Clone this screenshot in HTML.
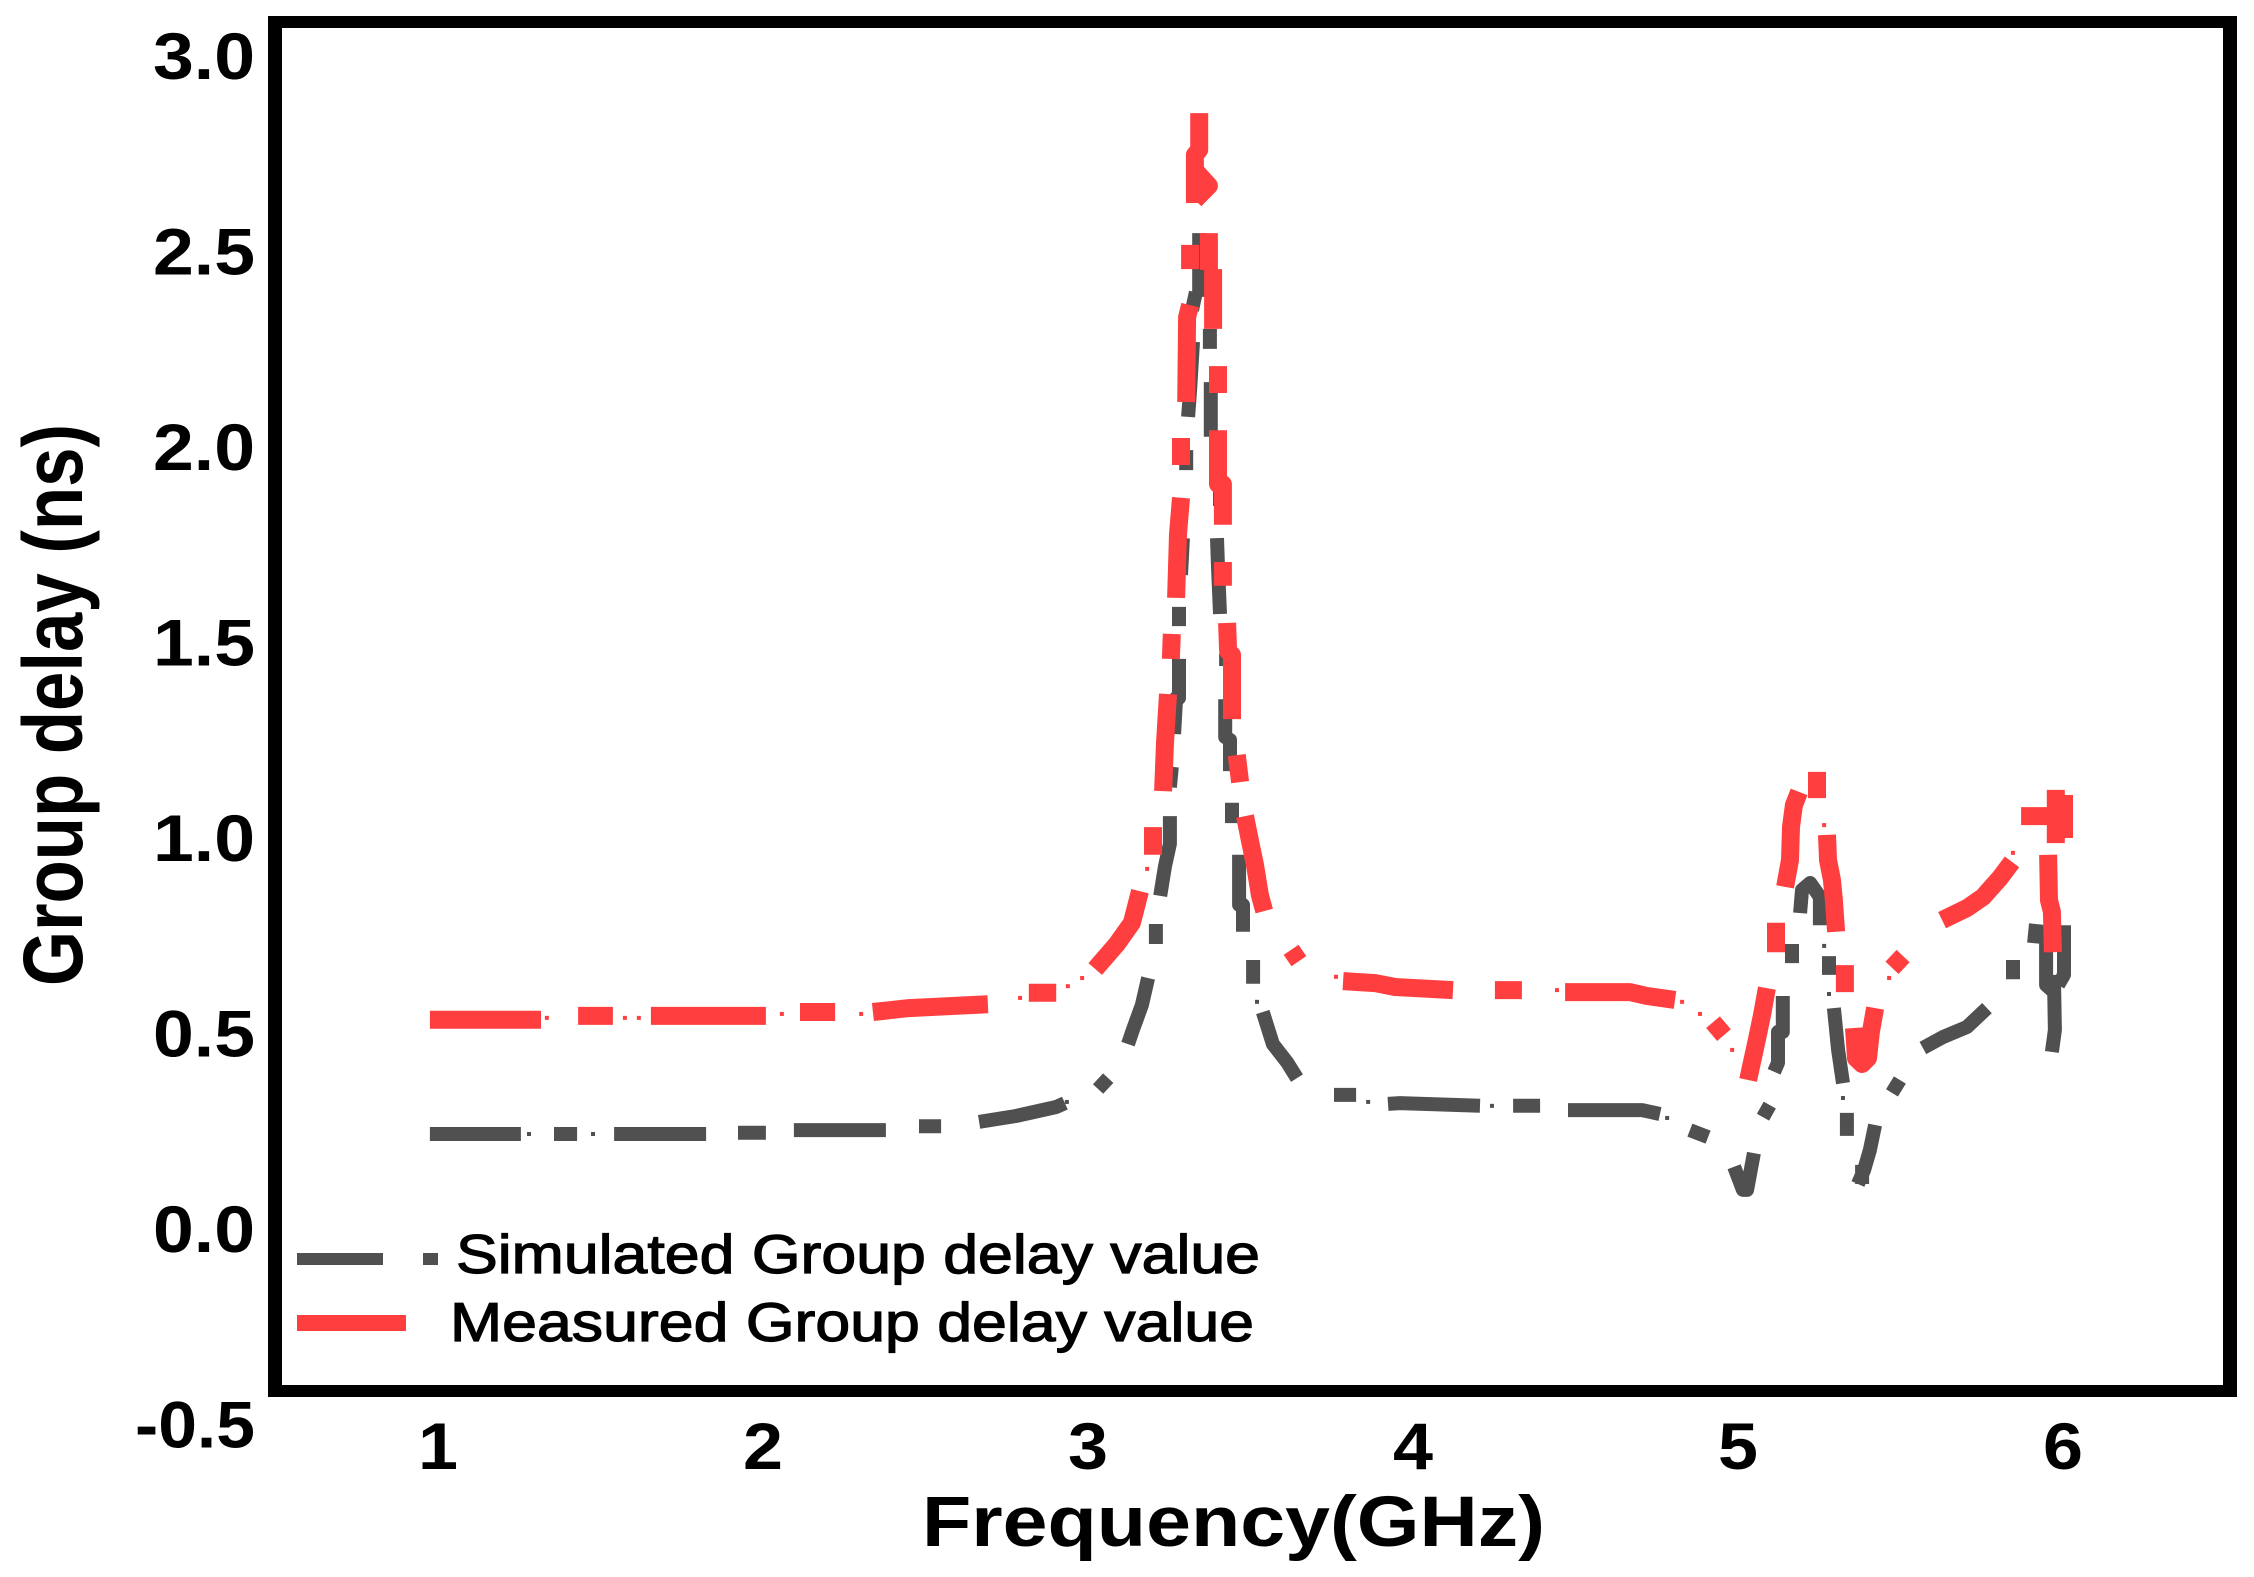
<!DOCTYPE html>
<html lang="en">
<head>
<meta charset="utf-8">
<title>Group delay vs frequency</title>
<style>
html,body{margin:0;padding:0;background:#fff;width:2254px;height:1577px;overflow:hidden}
svg{display:block}
text{font-family:"Liberation Sans",sans-serif;fill:#000}
.bold{font-weight:bold}
.legend-text{stroke:#000;stroke-width:1.2px}
</style>
</head>
<body>
<svg id="chart" xmlns="http://www.w3.org/2000/svg" width="2254" height="1577" viewBox="0 0 2254 1577">
  <rect x="0" y="0" width="2254" height="1577" fill="#fff"/>
  <g id="series-layer"></g>
  <path fill="#000" fill-rule="evenodd" d="M268 16H2237V1397H268Z M282 28H2223V1385H282Z"/>
  <g id="y-ticks"></g>
  <g id="x-ticks"></g>
  <text class="bold" x="922" y="1546" font-size="71" textLength="623" lengthAdjust="spacingAndGlyphs">Frequency(GHz)</text>
  <text class="bold" transform="translate(82,986) rotate(-90)" font-size="84" textLength="562" lengthAdjust="spacingAndGlyphs">Group delay (ns)</text>
  <g>
    <rect x="297" y="1253" width="86" height="12" fill="#505050"/>
    <rect x="423" y="1253" width="15" height="12" fill="#505050"/>
    <text class="legend-text" x="456" y="1273" font-size="55" textLength="804" lengthAdjust="spacingAndGlyphs">Simulated Group delay value</text>
    <rect x="297" y="1315" width="109" height="16" fill="#ff3f3f"/>
    <text class="legend-text" x="450" y="1341" font-size="55" textLength="804" lengthAdjust="spacingAndGlyphs">Measured Group delay value</text>
  </g>
</svg>
<script>
var xTickValues = [1, 2, 3, 4, 5, 6];
var yTickValues = [3.0, 2.5, 2.0, 1.5, 1.0, 0.5, 0.0, -0.5];
var yTickLabels = ["3.0", "2.5", "2.0", "1.5", "1.0", "0.5", "0.0", "-0.5"];

var simulatedFreq = [
0.975,1.255,null, 1.357,1.428,null, 1.542,1.825,null, 1.923,2.009,null, 2.095,2.378,null, 2.480,2.548,null,
2.665,2.778,2.902,2.929,null, 3.031,3.062,null, 3.123,3.138,3.166,3.185,null, 3.209,3.209,null,
3.222,3.237,3.252,3.252,null, 3.252,3.258,null, 3.265,3.271,3.280,3.280,null, 3.280,3.280,null,
3.286,3.292,null, 3.302,3.302,null, 3.308,3.314,3.323,null, 3.320,3.332,null, 3.342,3.342,null,
3.375,3.375,null, 3.378,3.378,null, 3.406,3.406,null, 3.397,3.400,3.406,null, 3.425,3.425,null,
3.422,3.422,3.437,3.437,null, 3.443,3.443,null, 3.465,3.465,3.477,3.477,null, 3.508,3.508,null,
3.538,3.569,3.612,3.643,null, 3.757,3.825,null, 3.923,3.960,4.206,null, 4.308,4.391,null,
4.477,4.705,4.760,null, 4.852,4.908,null, 4.988,5.015,5.028,5.049,null, 5.077,5.098,null,
5.111,5.123,5.123,5.138,5.138,null, 5.166,5.166,null, 5.191,5.197,5.222,5.252,5.252,null, 5.280,5.280,null,
5.295,5.308,5.323,null, 5.335,5.335,null, 5.422,5.406,5.388,5.369,null, 5.382,5.382,null, 5.474,5.498,null,
5.569,5.631,5.705,5.766,null, 5.846,5.846,null, 5.911,5.917,null, 5.948,5.948,5.966,null,
6.003,6.003,5.985,null, 5.972,5.975,5.966
];
var simulatedDelay = [
0.243,0.243,null, 0.243,0.243,null, 0.243,0.243,null, 0.246,0.246,null, 0.253,0.253,null, 0.263,0.263,null,
0.274,0.289,0.312,0.322,null, 0.358,0.386,null, 0.473,0.509,0.573,0.642,null, 0.729,0.780,null,
0.852,0.928,0.985,1.056,null, 1.130,1.182,null, 1.266,1.358,1.358,1.458,null, 1.542,1.591,null,
1.673,1.767,null, 1.941,1.992,null, 2.077,2.146,2.269,null, 2.350,2.396,null, 2.384,2.547,null,
2.302,2.251,null, 2.166,2.026,null, 1.890,1.849,null, 1.767,1.693,1.573,null, 1.471,1.440,null,
1.355,1.258,1.251,1.171,null, 1.090,1.038,null, 0.957,0.829,0.829,0.760,null, 0.688,0.627,null,
0.555,0.473,0.427,0.386,null, 0.343,0.343,null, 0.320,0.322,0.315,null, 0.315,0.315,null,
0.304,0.304,0.294,null, 0.253,0.235,null, 0.159,0.100,0.100,0.194,null, 0.286,0.317,null,
0.402,0.425,0.504,0.504,0.596,null, 0.680,0.729,null, 0.808,0.867,0.885,0.849,0.777,null, 0.698,0.650,null,
0.565,0.458,0.373,null, 0.297,0.238,null, 0.266,0.202,0.151,0.115,null, 0.164,0.115,null, 0.348,0.381,null,
0.463,0.491,0.517,0.565,null, 0.639,0.688,null, 0.731,0.780,null, 0.777,0.624,0.611,null,
0.777,0.650,0.624,null, 0.650,0.509,0.453
];
var simulatedDotFreq = [1.280,1.477,2.935,3.520,3.862,4.243,4.782,5.265,5.280,5.323];
var simulatedDotDelay = [0.243,0.243,0.325,0.581,0.325,0.315,0.284,0.724,0.601,0.335];

var measuredFreq = [
0.975,1.317,null, 1.431,1.538,null, 1.655,2.009,null, 2.114,2.222,null, 2.338,2.449,2.692,null, 2.818,2.902,null,
3.022,3.089,3.135,3.160,null, 3.200,3.200,null, 3.231,3.237,3.246,null, 3.255,3.258,null,
3.271,3.277,3.286,null, 3.286,3.286,null, 3.302,3.305,3.314,null, 3.314,3.314,null, 3.372,3.372,null,
3.342,3.342,3.329,3.329,null, 3.329,3.372,3.329,null, 3.385,3.385,null, 3.400,3.400,null,
3.400,3.400,3.415,3.415,null, 3.415,3.415,null, 3.428,3.431,3.443,3.443,null, 3.458,3.468,null,
3.483,3.498,3.514,3.529,3.542,null, 3.625,3.649,null, 3.785,3.883,3.945,4.123,null, 4.252,4.335,null,
4.468,4.668,4.720,4.806,null, 4.923,4.957,null, 5.089,5.074,5.058,5.043,5.031,null, 5.117,5.117,null,
5.145,5.160,5.163,5.172,5.188,null, 5.243,5.243,null, 5.274,5.277,5.289,5.295,5.302,null, 5.329,5.329,null,
5.357,5.363,5.382,5.400,5.409,5.422,null, 5.474,5.508,null, 5.628,5.705,5.754,5.806,5.843,null,
5.871,5.960,null, 5.978,5.978,null, 6.003,6.003,null, 5.954,5.957,5.966,5.969
];
var measuredDelay = [
0.535,0.535,null, 0.545,0.545,null, 0.545,0.545,null, 0.555,0.555,null, 0.555,0.565,0.575,null, 0.604,0.604,null,
0.665,0.729,0.783,0.864,null, 0.957,1.028,null, 1.120,1.243,1.368,null, 1.458,1.522,null,
1.614,1.777,1.870,null, 1.954,2.023,null, 2.115,2.332,2.363,null, 2.455,2.517,null, 2.547,2.453,null,
2.854,2.760,2.747,2.624,null, 2.708,2.668,2.632,null, 2.455,2.302,null, 2.207,2.138,null,
2.043,1.905,1.905,1.801,null, 1.706,1.645,null, 1.550,1.478,1.468,1.304,null, 1.212,1.143,null,
1.056,0.995,0.931,0.854,0.813,null, 0.714,0.685,null, 0.634,0.629,0.619,0.611,null, 0.611,0.611,null,
0.606,0.606,0.596,0.586,null, 0.529,0.496,null, 0.616,0.547,0.483,0.427,0.381,null, 0.783,0.708,null,
0.875,0.944,1.028,1.084,1.118,null, 1.102,1.169,null, 1.008,0.944,0.893,0.841,0.760,null, 0.675,0.606,null,
0.514,0.437,0.422,0.437,0.504,0.565,null, 0.668,0.698,null, 0.790,0.821,0.849,0.898,0.939,null,
1.056,1.056,null, 1.123,0.987,null, 1.110,1.000,null, 0.957,0.841,0.811,0.708
];
var measuredDotFreq = [1.335,1.575,1.618,2.058,2.302,2.791,2.938,2.982,3.182,3.763,4.443,4.828,4.883,4.982,5.265,5.465,5.846];
var measuredDotDelay = [0.540,0.540,0.540,0.550,0.550,0.591,0.621,0.642,0.921,0.645,0.611,0.581,0.550,0.458,1.033,0.642,0.962];

var SVG_NS = "http://www.w3.org/2000/svg";

function xScale(freq) {
  return 438 + 325 * (freq - 1);
}
function yScale(delay) {
  return 1229 - 391 * delay;
}

function buildPath(freqs, delays) {
  var d = "";
  var penDown = false;
  for (var i = 0; i < freqs.length; i++) {
    if (freqs[i] === null || delays[i] === null) {
      penDown = false;
      continue;
    }
    d += (penDown ? "L" : "M") + xScale(freqs[i]).toFixed(1) + " " + yScale(delays[i]).toFixed(1);
    penDown = true;
  }
  return d;
}

var seriesLayer = document.getElementById("series-layer");

var simulatedLine = document.createElementNS(SVG_NS, "path");


simulatedLine.setAttribute("d", buildPath(simulatedFreq, simulatedDelay));
simulatedLine.setAttribute("fill", "none");
simulatedLine.setAttribute("stroke", "#505050");
simulatedLine.setAttribute("stroke-width", "14");
simulatedLine.setAttribute("stroke-linejoin", "round");
seriesLayer.appendChild(simulatedLine);

simulatedDotFreq.forEach(function (freq, i) {
  var dot = document.createElementNS(SVG_NS, "rect");
  
  
  dot.setAttribute("x", xScale(freq) - 2);
  dot.setAttribute("y", yScale(simulatedDotDelay[i]) - 2);
  dot.setAttribute("width", 4);
  dot.setAttribute("height", 4);
  dot.setAttribute("fill", "#505050");
  seriesLayer.appendChild(dot);
});

var measuredLine = document.createElementNS(SVG_NS, "path");


measuredLine.setAttribute("d", buildPath(measuredFreq, measuredDelay));
measuredLine.setAttribute("fill", "none");
measuredLine.setAttribute("stroke", "#ff3f3f");
measuredLine.setAttribute("stroke-width", "18");
measuredLine.setAttribute("stroke-linejoin", "round");
seriesLayer.appendChild(measuredLine);

measuredDotFreq.forEach(function (freq, i) {
  var dot = document.createElementNS(SVG_NS, "rect");
  
  
  dot.setAttribute("x", xScale(freq) - 2);
  dot.setAttribute("y", yScale(measuredDotDelay[i]) - 2);
  dot.setAttribute("width", 4);
  dot.setAttribute("height", 4);
  dot.setAttribute("fill", "#ff3f3f");
  seriesLayer.appendChild(dot);
});

var yTickGroup = document.getElementById("y-ticks");
yTickValues.forEach(function (value, i) {
  var label = document.createElementNS(SVG_NS, "text");
  
  
  label.setAttribute("class", "bold");
  label.setAttribute("x", 255);
  label.setAttribute("y", yScale(value) + 23);
  label.setAttribute("text-anchor", "end");
  label.setAttribute("font-size", "66");
  label.setAttribute("textLength", yTickLabels[i].length > 3 ? 120 : 102);
  label.setAttribute("lengthAdjust", "spacingAndGlyphs");
  label.textContent = yTickLabels[i];
  yTickGroup.appendChild(label);
});

var xTickGroup = document.getElementById("x-ticks");
xTickValues.forEach(function (value) {
  var label = document.createElementNS(SVG_NS, "text");
  
  
  label.setAttribute("class", "bold");
  label.setAttribute("x", xScale(value));
  label.setAttribute("y", 1469);
  label.setAttribute("text-anchor", "middle");
  label.setAttribute("font-size", "66");
  label.setAttribute("textLength", 40);
  label.setAttribute("lengthAdjust", "spacingAndGlyphs");
  label.textContent = String(value);
  xTickGroup.appendChild(label);
});
</script>
</body>
</html>
